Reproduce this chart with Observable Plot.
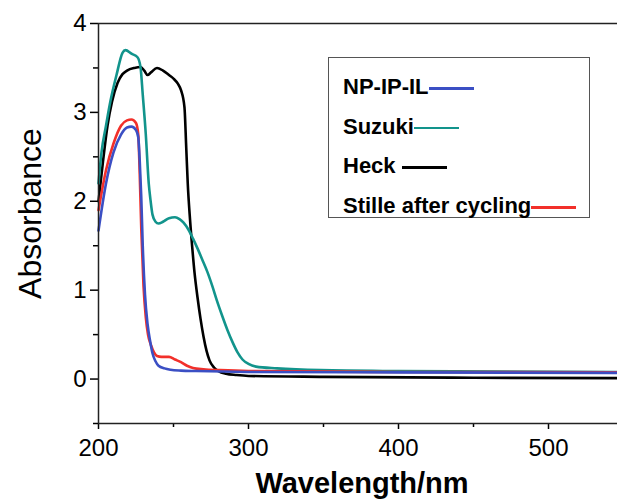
<!DOCTYPE html>
<html><head><meta charset="utf-8">
<script src="https://cdn.jsdelivr.net/npm/d3@7"></script>
<script src="https://cdn.jsdelivr.net/npm/@observablehq/plot@0.6"></script>
<style>
body{margin:0;background:#fff;font-family:"Liberation Sans",Arial,sans-serif}
#wrap{position:relative;width:617px;height:504px;overflow:hidden;background:#fff}
#legend{position:absolute;left:328px;top:57px;width:262px;height:161px;border:1.5px solid #555;box-sizing:border-box;padding:9px 0 0 14px;background:#fff}
.row{display:flex;align-items:center;height:39.7px;font-weight:bold;font-size:22px;color:#000;white-space:pre}
.sw{display:inline-block;width:45px;height:2.5px;margin-top:3px}
</style></head>
<body><div id="wrap"></div>
<script>
const seriesNames = ["NP-IP-IL", "Suzuki", "Heck", "Stille after cycling"];
const seriesColors = ["#3b4fc4", "#12948c", "#000000", "#f2302a"];

const npX = [200,205,210,215,219,222,225,226.5,227.5,228.5,229.5,231,232.7,234.5,236,238,240,244,248,255,265,300,400,546];
const npY = [1.67,2.2,2.55,2.75,2.83,2.84,2.8,2.72,2.45,2.05,1.5,0.95,0.62,0.42,0.29,0.2,0.15,0.12,0.105,0.095,0.09,0.08,0.075,0.07];

const suzX = [200,202,205,208,212,216,218,222,226,228,229.5,231.5,233.5,234.7,236,238,240,243,247,251,254,256.7,260,263,266,269,272.7,276,279,282.5,286,289.5,292.7,296,300,305,319,348,400,546];
const suzY = [2.2,2.55,2.85,3.13,3.42,3.67,3.7,3.66,3.62,3.51,3.2,2.76,2.2,2.01,1.85,1.77,1.75,1.77,1.81,1.82,1.8,1.76,1.68,1.58,1.47,1.35,1.2,1.04,0.88,0.71,0.55,0.41,0.3,0.22,0.17,0.14,0.12,0.1,0.09,0.08];

const heckX = [200,203,206,209,212.7,216,219,224,228,230.5,232.7,235,239,243,247,250,253,255,257.3,258.5,259.5,261,262.5,264,266,268,270,272,274,277,280,285,292,300,350,450,546];
const heckY = [2.0,2.45,2.85,3.12,3.33,3.43,3.47,3.5,3.51,3.47,3.42,3.45,3.5,3.47,3.42,3.38,3.32,3.25,3.06,2.6,2.2,1.8,1.48,1.2,0.92,0.68,0.48,0.32,0.21,0.13,0.09,0.06,0.045,0.035,0.025,0.015,0.01];

const stilleX = [200,205,210,215,219,222,225,226.5,227.5,228.5,230,231.5,233,235,237,239,242,247,251,255,259,263,270,281,300,400,546];
const stilleY = [1.9,2.35,2.65,2.85,2.91,2.92,2.88,2.75,2.3,1.7,1.05,0.7,0.5,0.38,0.3,0.26,0.25,0.25,0.22,0.19,0.15,0.125,0.11,0.1,0.09,0.08,0.075];

const xMajor = [200,300,400,500];
const xMinor = [250,350,450];
const yMajor = [0,1,2,3,4];
const yMinor = [-0.5,0.5,1.5,2.5,3.5];
const xTitle = "Wavelength/nm";
const yTitle = "Absorbance";

const toRows = (xs, ys, name) => xs.map((x, i) => ({x, y: ys[i], name}));
const allSeries = [
  toRows(heckX, heckY, "Heck"),
  toRows(suzX, suzY, "Suzuki"),
  toRows(stilleX, stilleY, "Stille after cycling"),
  toRows(npX, npY, "NP-IP-IL")
];
const colorOf = Object.fromEntries(seriesNames.map((n, i) => [n, seriesColors[i]]));

const chart = Plot.plot({
  width: 617, height: 504,
  marginTop: 23, marginBottom: 81, marginLeft: 98, marginRight: 0,
  x: {domain: [200, 546]},
  y: {domain: [-0.5, 4]},
  style: {fontFamily: "Liberation Sans, Arial, sans-serif", fontSize: "24px", color: "#000", background: "#fff", overflow: "visible"},
  marks: [
    Plot.axisX({ticks: xMajor, tickSize: 6, tickPadding: 9, fontSize: 24, tickFormat: d3.format("d"), label: null, strokeWidth: 1.5}),
    Plot.axisX({ticks: xMinor, tickSize: 4, tickFormat: () => "", label: null, strokeWidth: 1.5}),
    Plot.axisY({ticks: yMajor, tickSize: 8, tickPadding: 4, fontSize: 24, tickFormat: d3.format("d"), label: null, strokeWidth: 1.5}),
    Plot.axisY({ticks: yMinor, tickSize: 5, tickFormat: () => "", label: null, strokeWidth: 1.5}),
    ...allSeries.map(d => Plot.line(d, {x: "x", y: "y", stroke: colorOf[d[0].name], strokeWidth: 2.6, curve: "monotone-x"})),
    Plot.ruleY([4], {stroke: "#222", strokeWidth: 1.5}),
    Plot.ruleY([-0.5], {stroke: "#222", strokeWidth: 1.5}),
    Plot.ruleX([200], {stroke: "#222", strokeWidth: 1.5}),
    Plot.text([yTitle], {frameAnchor: "left", rotate: -90, dx: -68, dy: -10, fontSize: 32, textAnchor: "middle", lineAnchor: "middle", fill: "#000"}),
    Plot.text([xTitle], {frameAnchor: "bottom", dx: 4, dy: 60, fontSize: 29, fontWeight: "bold", textAnchor: "middle", lineAnchor: "middle", fill: "#000"})
  ]
});
const wrap = document.getElementById("wrap");
wrap.appendChild(chart);

const legend = document.createElement("div");
legend.id = "legend";
const labels = ["NP-IP-IL", "Suzuki", "Heck ", "Stille after cycling"];
seriesNames.forEach((n, i) => {
  const row = document.createElement("div");
  row.className = "row";
  const t = document.createElement("span");
  t.textContent = labels[i];
  const s = document.createElement("span");
  s.className = "sw";
  s.style.background = seriesColors[i];
  row.appendChild(t); row.appendChild(s);
  legend.appendChild(row);
});
wrap.appendChild(legend);
</script>
</body></html>
